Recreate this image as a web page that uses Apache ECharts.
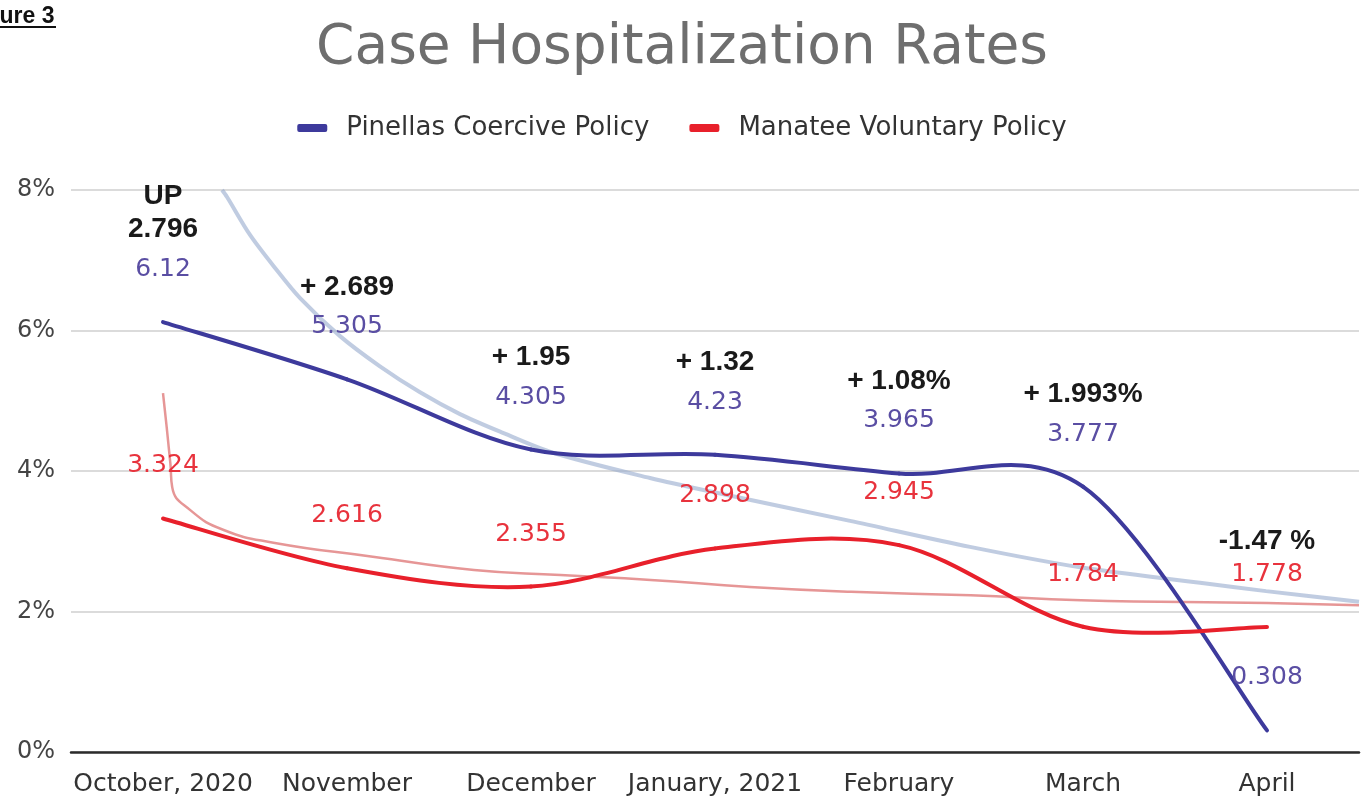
<!DOCTYPE html>
<html>
<head>
<meta charset="utf-8">
<title>Case Hospitalization Rates</title>
<script src="https://cdn.jsdelivr.net/npm/echarts@6/dist/echarts.min.js"></script>
<style>
  html, body { margin: 0; padding: 0; background: #fff; }
  #main { width: 1364px; height: 802px; }
</style>
</head>
<body>
<div id="main"></div>
<script>
// values
var months = ['October, 2020', 'November', 'December', 'January, 2021', 'February', 'March', 'April'];
var pinellas = [6.12, 5.305, 4.305, 4.23, 3.965, 3.777, 0.308];
var manatee = [3.324, 2.616, 2.355, 2.898, 2.945, 1.784, 1.778];

// bold notes written over the points
var pinellasNotes = ['UP\n2.796', '+ 2.689', '+ 1.95', '+ 1.32', '+ 1.08%', '+ 1.993%', ''];
var manateeNotes = ['', '', '', '', '', '', '-1.47 %'];

// faint trend lines, [month index, percent]
var pinellasTrend = [[0.321, 8.0], [0.348, 7.90], [0.473, 7.36], [0.609, 6.89], [0.745, 6.46], [0.962, 5.92],
  [1.179, 5.49], [1.397, 5.12], [1.614, 4.81], [1.832, 4.56], [2.12, 4.26], [2.647, 3.90], [2.989, 3.70],
  [3.734, 3.29], [4.386, 2.92], [4.984, 2.63], [5.636, 2.41], [5.995, 2.29], [6.5, 2.14]];
var manateeTrend = [[0.0, 5.11], [0.04, 4.11], [0.05, 3.77], [0.15, 3.44], [0.33, 3.16], [0.60, 2.98],
  [1.14, 2.78], [1.69, 2.59], [2.16, 2.52], [2.65, 2.45], [3.19, 2.35], [3.74, 2.28], [4.39, 2.23],
  [4.99, 2.16], [6.0, 2.12], [6.5, 2.09]];

var yMax = 8;
var yStep = 2;

var BLUE = '#3d3a9c';
var RED = '#e8202b';

function labelText(notes, key, noteKey) {
  return function (p) {
    var txt = '{' + key + '|' + p.value + '}';
    var n = notes[p.dataIndex];
    if (!n) return txt;
    var lines = n.split('\n');
    var out = [];
    for (var i = 0; i < lines.length; i++) {
      out.push('{' + (i < lines.length - 1 ? 'u' : noteKey) + '|' + lines[i] + '}');
    }
    out.push(txt);
    return out.join('\n');
  };
}

// catmull-rom style curve through the points, one bezier per segment
function curve(color) {
  return function (params, api) {
    var i = params.dataIndexInside;
    var n = params.dataInsideLength;
    if (i >= n - 1) return;
    function pt(k) {
      k = Math.max(0, Math.min(n - 1, k));
      return api.coord([api.value(0, k), api.value(1, k)]);
    }
    var a = pt(i - 1), b = pt(i), c = pt(i + 1), d = pt(i + 2);
    return {
      type: 'bezierCurve',
      shape: {
        x1: b[0], y1: b[1], x2: c[0], y2: c[1],
        cpx1: b[0] + (c[0] - a[0]) / 6, cpy1: b[1] + (c[1] - a[1]) / 6,
        cpx2: c[0] - (d[0] - b[0]) / 6, cpy2: c[1] - (d[1] - b[1]) / 6
      },
      style: { stroke: color, lineWidth: 4, fill: null, lineCap: 'round' }
    };
  };
}

var noteBase = { fontFamily: 'Liberation Sans', fontWeight: 'bold', fontSize: 28, color: '#1a1a1a' };
var richCommon = {
  a: Object.assign({ lineHeight: 52 }, noteBase),
  c: Object.assign({ lineHeight: 38 }, noteBase),
  u: Object.assign({ lineHeight: 14 }, noteBase),
  b: { fontFamily: 'DejaVu Sans', fontSize: 25, color: '#5a4ea3', lineHeight: 28 },
  r: { fontFamily: 'DejaVu Sans', fontSize: 25, color: '#e8333d', lineHeight: 28 }
};

var myChart = echarts.init(document.getElementById('main'));
var option = {
  backgroundColor: '#fff',
  animation: false,
  title: {
    text: 'Case Hospitalization Rates',
    left: 'center',
    top: 16,
    textStyle: { fontFamily: 'DejaVu Sans', fontSize: 55, fontWeight: 'normal', color: '#6e6e6e' }
  },
  legend: {
    data: [
      { name: 'Pinellas Coercive Policy', itemStyle: { color: BLUE, opacity: 1 } },
      { name: 'Manatee Voluntary Policy', itemStyle: { color: RED, opacity: 1 } }
    ],
    top: 110,
    left: 'center',
    icon: 'roundRect',
    itemWidth: 30,
    itemHeight: 8,
    itemGap: 40,
    textStyle: { fontFamily: 'DejaVu Sans', fontSize: 26, color: '#333', padding: [0, 0, 0, 14] }
  },
  graphic: [
    { type: 'text', x: -35, y: 5, style: { text: 'Figure 3', font: 'bold 23px "Liberation Sans"', fill: '#111' } },
    { type: 'line', shape: { x1: 0, y1: 27, x2: 56, y2: 27 }, style: { stroke: '#111', lineWidth: 2 } }
  ],
  grid: { left: 71, right: 5, top: 190, bottom: 50 },
  xAxis: [
    {
      type: 'category',
      data: months,
      boundaryGap: true,
      axisTick: { show: false },
      axisLine: { lineStyle: { color: '#2b2b2b', width: 2.5 } },
      axisLabel: { interval: 0, margin: 20, fontFamily: 'DejaVu Sans', fontSize: 25, color: '#333' }
    },
    { type: 'value', min: -0.5, max: 6.5, show: false }
  ],
  yAxis: {
    type: 'value',
    min: 0,
    max: yMax,
    interval: yStep,
    axisLine: { show: false },
    axisTick: { show: false },
    axisLabel: { formatter: '{value}%', margin: 16, fontFamily: 'DejaVu Sans', fontSize: 24, color: '#444' },
    splitLine: { lineStyle: { color: '#cfcfcf', width: 1.5 } }
  },
  series: [
    {
      name: 'Pinellas trend',
      type: 'line',
      xAxisIndex: 1,
      data: pinellasTrend,
      smooth: 0.3,
      showSymbol: false,
      silent: true,
      z: 1,
      lineStyle: { color: 'rgba(150,170,205,0.6)', width: 4 }
    },
    {
      name: 'Manatee trend',
      type: 'line',
      xAxisIndex: 1,
      data: manateeTrend,
      smooth: 0.5,
      showSymbol: false,
      silent: true,
      z: 1,
      lineStyle: { color: 'rgba(222,115,115,0.75)', width: 2.5 }
    },
    {
      name: 'Pinellas curve',
      type: 'custom',
      renderItem: curve(BLUE),
      data: pinellas.map(function (v, i) { return [i, v]; }),
      silent: true,
      z: 3
    },
    {
      name: 'Manatee curve',
      type: 'custom',
      renderItem: curve(RED),
      data: manatee.map(function (v, i) { return [i, v]; }),
      silent: true,
      z: 3
    },
    {
      name: 'Pinellas Coercive Policy',
      type: 'line',
      data: pinellas,
      symbol: 'circle',
      symbolSize: 1,
      z: 4,
      itemStyle: { color: BLUE },
      lineStyle: { opacity: 0 },
      label: {
        show: true,
        position: 'top',
        distance: 38,
        formatter: labelText(pinellasNotes, 'b', 'a'),
        rich: richCommon
      }
    },
    {
      name: 'Manatee Voluntary Policy',
      type: 'line',
      data: manatee,
      symbol: 'circle',
      symbolSize: 1,
      z: 4,
      itemStyle: { color: RED },
      lineStyle: { opacity: 0 },
      label: {
        show: true,
        position: 'top',
        distance: 38,
        formatter: labelText(manateeNotes, 'r', 'c'),
        rich: richCommon
      }
    }
  ]
};
myChart.setOption(option);
</script>
</body>
</html>
